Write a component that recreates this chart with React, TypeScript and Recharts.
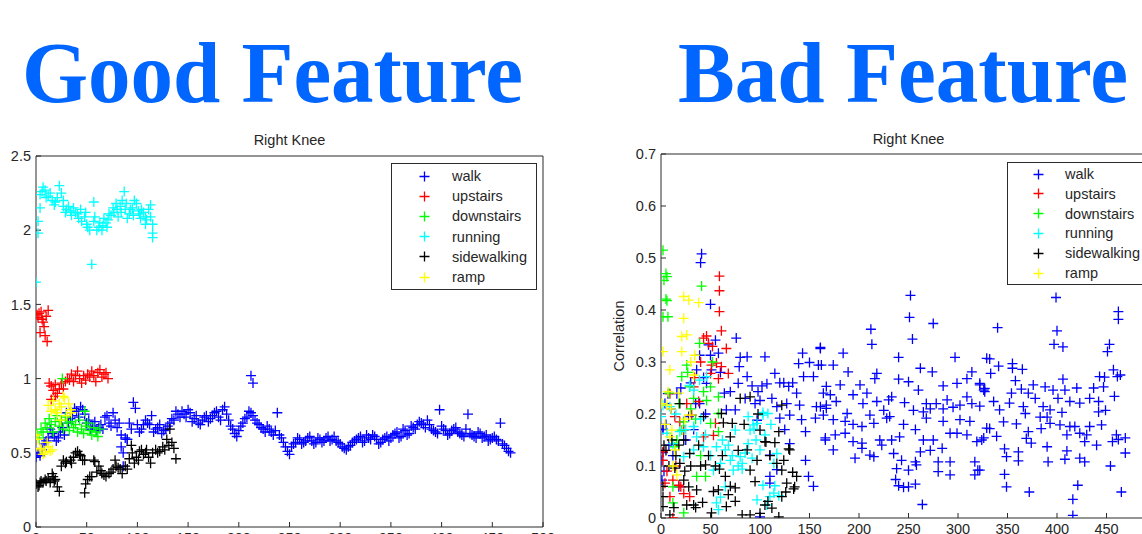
import { ScatterChart, Scatter, XAxis, YAxis, Legend } from 'recharts'

const seriesNames = ['walk', 'upstairs', 'downstairs', 'running', 'sidewalking', 'ramp']
const seriesColors = ['#0000ff', '#ff0000', '#00ff00', '#00ffff', '#000000', '#ffff00']

const xTicks = [0, 50, 100, 150, 200, 250, 300, 350, 400, 450, 500]
const goodYTicks = [0, 0.5, 1, 1.5, 2, 2.5]
const badYTicks = [0, 0.1, 0.2, 0.3, 0.4, 0.5, 0.6, 0.7]

// ---- Good feature (left) ----
// walk is sampled every 4 frames, two interleaved passes
const goodWalkStep = 4
const goodWalkY = [
  0.47, 0.48, 0.56, 0.6, 0.63, 0.58, 0.64, 0.62, 0.7, 0.75,
  0.78, 0.81, 0.76, 0.72, 0.68, 0.65, 0.69, 0.74, 0.7, 0.77,
  0.67, 0.62, 0.6, 0.7, 0.84, 0.69, 0.66, 0.72, 0.69, 0.64,
  0.67, 0.63, 0.66, 0.7, 0.72, 0.76, 0.78, 0.74, 0.77, 0.73,
  0.7, 0.72, 0.75, 0.73, 0.77, 0.74, 0.79, 0.76, 0.68, 0.63,
  0.65, 0.7, 0.74, 0.77, 0.72, 0.69, 0.66, 0.68, 0.64, 0.65,
  0.62, 0.57, 0.51, 0.54, 0.57, 0.59, 0.57, 0.6, 0.58, 0.57,
  0.59, 0.58, 0.61, 0.59, 0.58, 0.56, 0.53, 0.54, 0.57, 0.59,
  0.61, 0.58, 0.6, 0.62, 0.59, 0.57, 0.6, 0.58, 0.62, 0.64,
  0.61, 0.65, 0.63, 0.67, 0.69, 0.7, 0.67, 0.69, 0.65, 0.63,
  0.68, 0.65, 0.63, 0.66, 0.64, 0.62, 0.66, 0.63, 0.61, 0.64,
  0.6, 0.62, 0.59, 0.61, 0.58, 0.56, 0.53, 0.5,
]
const goodWalkY2 = [
  0.5, 0.52, 0.58, 0.66, 0.61, 0.6, 0.67, 0.77, 0.73, 0.8,
  0.74, 0.79, 0.7, 0.66, 0.71, 0.67, 0.66, 0.75, 0.68, 0.72,
  0.7, 0.5, 0.59, 0.66, 0.8, 0.64, 0.69, 0.7, 0.75, 0.66,
  0.69, 0.65, 0.68, 0.73, 0.78, 0.74, 0.76, 0.79, 0.71, 0.75,
  0.69, 0.74, 0.71, 0.75, 0.78, 0.72, 0.81, 0.72, 0.66, 0.61,
  0.68, 0.73, 0.78, 0.75, 0.7, 0.67, 0.64, 0.66, 0.62, 0.77,
  0.6, 0.54, 0.49, 0.56, 0.6, 0.56, 0.58, 0.61, 0.56, 0.6,
  0.57, 0.6, 0.58, 0.61, 0.57, 0.54, 0.52, 0.55, 0.58, 0.6,
  0.57, 0.62, 0.59, 0.61, 0.56, 0.59, 0.61, 0.6, 0.63, 0.6,
  0.66, 0.62, 0.68, 0.66, 0.71, 0.69, 0.72, 0.66, 0.64, 0.79,
  0.66, 0.62, 0.65, 0.67, 0.63, 0.61, 0.76, 0.62, 0.6, 0.63,
  0.61, 0.58, 0.6, 0.59, 0.7, 0.55, 0.51,
]
const goodWalkExtraX = [212, 214, 86, 90, 84]
const goodWalkExtraY = [1.02, 0.97, 0.41, 0.59, 0.54]

const goodUpX = [1, 2, 3, 4, 5, 6, 8, 9, 10, 11, 12, 7,
  13, 15, 17, 19, 21, 23, 25, 27, 29, 31, 33, 35, 37, 39, 41, 43, 45, 47, 49, 51, 53, 55, 57, 59, 61, 63, 65, 67, 69, 71, 15, 19]
const goodUpY = [1.43, 1.41, 1.44, 1.31, 1.45, 1.4, 1.35, 1.29, 1.42, 1.25, 1.46, 1.38,
  0.97, 0.95, 0.92, 0.96, 0.9, 0.93, 0.97, 0.93, 0.98, 1.0, 0.99, 1.03, 0.98, 1.02, 1.05, 1.0, 0.97, 1.02, 0.99, 1.03, 1.01, 1.05, 1.02, 0.98, 1.04, 1.06, 1.01, 1.03, 1.04, 1.0, 0.86, 0.88]

const goodDownX = [1, 3, 5, 7, 9, 11, 13, 15, 17, 19, 21, 23, 25, 27, 29, 31, 33, 35, 37, 39, 41, 43, 45, 47, 49, 51, 53, 55, 57, 59, 61, 63, 26, 48]
const goodDownY = [0.62, 0.6, 0.66, 0.64, 0.7, 0.67, 0.73, 0.69, 0.64, 0.71, 0.75, 0.68, 0.72, 0.66, 0.74, 0.7, 0.65, 0.71, 0.67, 0.69, 0.64, 0.72, 0.66, 0.63, 0.68, 0.7, 0.65, 0.62, 0.67, 0.64, 0.61, 0.66, 1.0, 0.78]

const goodRunX = [0, 2, 2, 4, 7, 9, 12, 16, 19, 23, 25, 27, 30, 34, 37, 41, 44, 48, 51, 53, 55, 57, 58, 62, 65, 69, 72, 76, 79, 83, 87, 88, 92, 95, 97, 101, 104, 108, 109, 113, 115, 115, 115,
  4, 6, 10, 14, 18, 21, 27, 29, 32, 35, 39, 42, 45, 49, 50, 57, 60, 63, 66, 67, 70, 71, 74, 77, 80, 81, 84, 85, 89, 90, 93, 96, 99, 102, 103, 106, 108, 111, 113]
const goodRunY = [1.65, 1.98, 2.06, 2.15, 2.29, 2.27, 2.23, 2.2, 2.19, 2.3, 2.25, 2.16, 2.14, 2.13, 2.15, 2.11, 2.14, 2.09, 2.02, 2.0, 1.77, 2.19, 2.09, 2.02, 2.0, 2.05, 2.11, 2.15, 2.18, 2.16, 2.26, 2.14, 2.11, 2.15, 2.2, 2.13, 2.14, 2.09, 2.07, 2.17, 2.04, 1.98, 1.95,
  2.24, 2.26, 2.22, 2.25, 2.17, 2.22, 2.2, 2.12, 2.16, 2.1, 2.12, 2.08, 2.06, 2.12, 2.04, 2.06, 2.0, 2.05, 2.03, 2.08, 2.02, 2.07, 2.1, 2.12, 2.14, 2.09, 2.12, 2.2, 2.18, 2.08, 2.14, 2.1, 2.18, 2.11, 2.08, 2.12, 2.04, 2.14, 2.09]

const goodSideX = [0, 2, 4, 5, 7, 9, 12, 14, 16, 18, 19, 21, 23, 25, 27, 30, 34, 35, 39, 41, 44, 46, 48, 48, 49, 51, 53, 55, 57, 58, 62, 64, 65, 69, 72, 76, 78, 79, 83, 85, 88, 90, 94, 95, 97, 101, 102, 104, 108, 109, 113, 115, 118, 122, 125, 127, 129, 131, 132, 134, 136, 138,
  3, 10, 17, 29, 37, 43, 60, 67, 74, 81, 92, 99, 106, 111, 120]
const goodSideY = [0.29, 0.27, 0.3, 0.31, 0.3, 0.32, 0.33, 0.3, 0.36, 0.31, 0.32, 0.27, 0.24, 0.41, 0.45, 0.44, 0.45, 0.43, 0.5, 0.51, 0.48, 0.45, 0.45, 0.23, 0.29, 0.32, 0.34, 0.34, 0.45, 0.44, 0.41, 0.38, 0.36, 0.34, 0.36, 0.39, 0.45, 0.41, 0.39, 0.36, 0.41, 0.39, 0.55, 0.5, 0.43, 0.45, 0.51, 0.52, 0.5, 0.52, 0.43, 0.5, 0.52, 0.51, 0.54, 0.52, 0.59, 0.55, 0.66, 0.57, 0.53, 0.46,
  0.28, 0.31, 0.34, 0.43, 0.47, 0.49, 0.37, 0.35, 0.37, 0.4, 0.46, 0.47, 0.49, 0.47, 0.5]

const goodRampX = [0, 2, 4, 5, 7, 9, 11, 12, 14, 16, 19, 21, 23, 25, 27, 28, 30, 32, 34, 35, 24, 12, 15, 17]
const goodRampY = [0.62, 0.59, 0.53, 0.52, 0.49, 0.5, 0.57, 0.54, 0.51, 0.52, 0.79, 0.77, 0.83, 0.81, 0.88, 0.87, 0.75, 0.83, 0.79, 0.77, 0.72, 0.82, 0.78, 0.85]

// ---- Bad feature (right) ----
const badWalkX = [
  41, 40, 50, 76, 55, 48, 58, 50, 80, 87, 105, 161, 143, 79, 115, 139, 150, 159, 87, 78, 92, 102, 124, 144, 154, 70, 98, 107, 129, 137, 164, 66, 75, 100, 112, 117, 127, 140, 157, 167, 120, 130, 142, 156, 166, 146, 130, 146, 149, 154, 110, 117, 110, 110, 36, 39, 46, 51, 7, 4, 2, 16, 28, 39, 1, 1, 97, 100, 2, 2, 5, 10, 20, 25, 30, 35, 45, 12, 3,
  8, 18, 33, 43, 60, 64, 85, 95, 125, 133, 120,
  252, 251, 254, 275, 212, 213, 161, 184, 174, 162, 240, 297, 329, 189, 218, 262, 274, 314, 216, 240, 250, 309, 299, 167, 181, 201, 285, 322, 260, 171, 194, 208, 233, 309, 327, 177, 204, 218, 230, 246, 268, 278, 289, 302, 314, 161, 167, 188, 211, 225, 231, 255, 265, 272, 285, 295, 164, 174, 186, 194, 203, 215, 228, 245, 257, 268, 285, 302, 312, 329, 166, 176, 186, 194, 203, 221, 233, 241, 265, 275, 292, 299, 309, 319, 326, 174, 196, 203, 211, 215, 223, 235, 262, 272, 284, 243, 257, 258, 250, 238, 280, 292, 280, 292, 317, 320, 317, 237, 240, 245, 250, 257, 264, 326,
  399, 462, 462, 340, 400, 397, 406, 453, 451, 332, 341, 355, 355, 365, 333, 457, 443, 448, 461, 464, 358, 406, 322, 327, 376, 364, 388, 396, 408, 420, 437, 447, 354, 371, 458, 336, 352, 366, 378, 401, 413, 433, 442, 322, 342, 368, 386, 393, 405, 423, 442, 449, 346, 383, 390, 393, 403, 413, 433, 445, 359, 332, 339, 371, 384, 410, 423, 430, 418, 460, 469, 456, 462, 324, 369, 374, 428, 440, 347, 349, 361, 361, 390, 410, 408, 391, 423, 428, 469, 454, 347, 349, 372, 421, 416, 416, 465, 322,
]
const badWalkY = [
  0.508, 0.491, 0.411, 0.346, 0.342, 0.333, 0.317, 0.313, 0.309, 0.31, 0.31, 0.328, 0.317, 0.291, 0.278, 0.297, 0.299, 0.294, 0.272, 0.259, 0.254, 0.254, 0.26, 0.272, 0.272, 0.243, 0.243, 0.258, 0.253, 0.24, 0.24, 0.208, 0.208, 0.226, 0.23, 0.214, 0.22, 0.217, 0.214, 0.217, 0.192, 0.198, 0.189, 0.192, 0.15, 0.166, 0.143, 0.111, 0.08, 0.061, 0.08, 0.093, 0.067, 0.121, 0.285, 0.313, 0.259, 0.285, 0.239, 0.22, 0.17, 0.239, 0.195, 0.22, 0.111, 0.073, 0.188, 0.002, 0.171, 0.126, 0.18, 0.21, 0.25, 0.15, 0.26, 0.22, 0.2, 0.12, 0.09,
  0.14, 0.06, 0.17, 0.27, 0.28, 0.24, 0.23, 0.22, 0.17, 0.26, 0.26,
  0.428, 0.386, 0.344, 0.374, 0.363, 0.334, 0.326, 0.317, 0.294, 0.294, 0.309, 0.309, 0.307, 0.281, 0.278, 0.288, 0.281, 0.281, 0.268, 0.267, 0.262, 0.268, 0.259, 0.253, 0.256, 0.256, 0.254, 0.256, 0.246, 0.237, 0.237, 0.24, 0.233, 0.233, 0.243, 0.224, 0.22, 0.224, 0.227, 0.222, 0.22, 0.22, 0.227, 0.217, 0.22, 0.214, 0.211, 0.201, 0.198, 0.207, 0.195, 0.207, 0.204, 0.21, 0.21, 0.213, 0.198, 0.189, 0.186, 0.18, 0.176, 0.182, 0.192, 0.18, 0.17, 0.192, 0.186, 0.189, 0.186, 0.173, 0.154, 0.16, 0.163, 0.147, 0.144, 0.15, 0.15, 0.156, 0.15, 0.15, 0.163, 0.163, 0.16, 0.147, 0.154, 0.131, 0.115, 0.134, 0.121, 0.118, 0.14, 0.124, 0.127, 0.13, 0.134, 0.111, 0.108, 0.102, 0.092, 0.095, 0.108, 0.108, 0.089, 0.083, 0.108, 0.092, 0.083, 0.074, 0.062, 0.059, 0.06, 0.065, 0.026, 0.246,
  0.424, 0.397, 0.382, 0.366, 0.36, 0.334, 0.329, 0.334, 0.32, 0.306, 0.292, 0.297, 0.288, 0.286, 0.278, 0.285, 0.272, 0.271, 0.272, 0.275, 0.264, 0.267, 0.259, 0.249, 0.256, 0.248, 0.252, 0.246, 0.246, 0.25, 0.25, 0.252, 0.24, 0.24, 0.234, 0.224, 0.221, 0.214, 0.23, 0.23, 0.224, 0.23, 0.224, 0.215, 0.208, 0.201, 0.214, 0.208, 0.203, 0.221, 0.204, 0.207, 0.185, 0.194, 0.194, 0.182, 0.179, 0.176, 0.176, 0.179, 0.181, 0.172, 0.157, 0.166, 0.172, 0.16, 0.163, 0.16, 0.176, 0.16, 0.154, 0.147, 0.151, 0.15, 0.153, 0.144, 0.147, 0.14, 0.133, 0.118, 0.127, 0.11, 0.137, 0.129, 0.113, 0.108, 0.115, 0.108, 0.125, 0.1, 0.084, 0.06, 0.05, 0.063, 0.036, 0.005, 0.05, 0.092,
]

const badUpX = [59, 59, 59, 61, 46, 43, 48, 66, 56, 61, 51, 50, 68, 58, 33, 9, 38, 26, 31, 14, 55, 23, 2, 2, 12, 18, 23, 29, 9, 12, 4, 43, 53, 19,
  6, 15, 20, 34, 40, 52]
const badUpY = [0.465, 0.437, 0.397, 0.36, 0.35, 0.346, 0.336, 0.326, 0.298, 0.291, 0.294, 0.278, 0.278, 0.268, 0.252, 0.239, 0.224, 0.22, 0.198, 0.195, 0.182, 0.169, 0.127, 0.111, 0.073, 0.063, 0.047, 0.041, 0.041, 0.0, 0.067, 0.156, 0.159, 0.185,
  0.09, 0.1, 0.06, 0.27, 0.3, 0.33]

const badDownX = [2, 5, 6, 3, 5, 6, 2, 7, 41, 39, 26, 21, 29, 43, 50, 58, 46, 58, 23, 21, 50, 14, 36, 12, 23, 58, 45, 30, 35, 16,
  8, 12, 18, 27, 33, 40, 52]
const badDownY = [0.515, 0.47, 0.464, 0.457, 0.421, 0.418, 0.387, 0.387, 0.446, 0.336, 0.294, 0.272, 0.252, 0.243, 0.252, 0.233, 0.226, 0.201, 0.185, 0.169, 0.182, 0.137, 0.08, 0.029, 0.01, 0.166, 0.08, 0.21, 0.19, 0.15,
  0.24, 0.06, 0.22, 0.28, 0.23, 0.12, 0.3]

const badRunX = [2, 0, 9, 29, 33, 39, 46, 6, 19, 33, 36, 33, 43, 56, 65, 70, 60, 53, 80, 90, 93, 97, 103, 108, 88, 82, 73, 100, 114, 114, 56, 58, 103, 97, 110, 117, 88, 75, 23, 12, 103, 94, 82, 115, 119,
  15, 25, 40, 45, 50, 62, 68, 72, 78, 85, 92, 96, 105, 111, 65, 60, 107]
const badRunY = [0.217, 0.195, 0.214, 0.255, 0.246, 0.265, 0.272, 0.163, 0.166, 0.176, 0.156, 0.131, 0.137, 0.137, 0.131, 0.111, 0.105, 0.092, 0.118, 0.169, 0.179, 0.182, 0.198, 0.201, 0.143, 0.105, 0.092, 0.131, 0.105, 0.048, 0.029, 0.016, 0.063, 0.035, 0.041, 0.124, 0.195, 0.169, 0.118, 0.143, 0.203, 0.171, 0.094, 0.062, 0.043,
  0.2, 0.17, 0.19, 0.16, 0.12, 0.15, 0.14, 0.12, 0.1, 0.125, 0.115, 0.15, 0.16, 0.18, 0.06, 0.04, 0.025]

const badSideX = [11, 14, 2, 2, 2, 9, 19, 23, 26, 33, 19, 43, 38, 29, 23, 45, 36, 51, 53, 58, 70, 75, 66, 63, 72, 70, 80, 90, 61, 87, 90, 97, 105, 100, 119, 122, 124, 122, 130, 117, 127, 134, 137, 122, 105, 100, 90, 119, 112, 108, 82, 75, 129, 133, 106, 59,
  5, 8, 15, 18, 24, 28, 30, 40, 42, 48, 55, 62, 65, 68, 78, 84, 95, 98, 110, 115, 126, 135, 3, 13, 35]
const badSideY = [0.15, 0.096, 0.061, 0.041, 0.022, 0.006, 0.105, 0.073, 0.025, 0.025, 0.22, 0.195, 0.14, 0.124, 0.15, 0.102, 0.054, 0.01, 0.051, 0.054, 0.061, 0.058, 0.022, 0.183, 0.182, 0.156, 0.23, 0.233, 0.201, 0.131, 0.092, 0.111, 0.147, 0.169, 0.166, 0.217, 0.111, 0.092, 0.131, 0.105, 0.067, 0.056, 0.08, 0.041, 0.025, 0.009, 0.006, 0.002, 0.019, 0.032, 0.006, 0.032, 0.133, 0.088, 0.146, 0.094,
  0.13, 0.1, 0.12, 0.14, 0.09, 0.06, 0.1, 0.1, 0.03, 0.12, 0.1, 0.12, 0.08, 0.045, 0.13, 0.18, 0.07, 0.2, 0.12, 0.145, 0.05, 0.06, 0.14, 0.02, 0.02]

const badRampX = [23, 28, 38, 23, 21, 26, 2, 21, 34, 9, 33, 7, 6, 1, 29, 9, 14, 16, 11,
  4, 10, 18, 24, 30, 12]
const badRampY = [0.426, 0.419, 0.414, 0.384, 0.349, 0.352, 0.32, 0.32, 0.313, 0.285, 0.275, 0.243, 0.217, 0.22, 0.198, 0.156, 0.131, 0.083, 0.169,
  0.18, 0.21, 0.24, 0.19, 0.3, 0.1]

type Pt = { x: number; y: number }
const pts = (xs: number[], ys: number[]): Pt[] => xs.map((x, i) => ({ x, y: ys[i] }))

const goodSeries: Pt[][] = [
  [
    ...goodWalkY.map((y, i) => ({ x: i * goodWalkStep, y })),
    ...goodWalkY2.map((y, i) => ({ x: i * goodWalkStep + 2, y })),
    ...pts(goodWalkExtraX, goodWalkExtraY),
  ],
  pts(goodUpX, goodUpY),
  pts(goodDownX, goodDownY),
  pts(goodRunX, goodRunY),
  pts(goodSideX, goodSideY),
  pts(goodRampX, goodRampY),
]

const badSeries: Pt[][] = [
  pts(badWalkX, badWalkY),
  pts(badUpX, badUpY),
  pts(badDownX, badDownY),
  pts(badRunX, badRunY),
  pts(badSideX, badSideY),
  pts(badRampX, badRampY),
]

const axisColor = '#2b2b2b'
const textColor = '#262626'
const sans = '"Liberation Sans", Arial, sans-serif'

function plusShape(color: string) {
  return (p: any) => {
    const { cx, cy } = p
    if (cx == null || cy == null) return <g />
    return (
      <path
        d={`M${cx - 5},${cy}H${cx + 5}M${cx},${cy - 5}V${cy + 5}`}
        stroke={color}
        strokeWidth={1.3}
        fill="none"
      />
    )
  }
}

function LegendBox({ markerX, textX, rowTop, rowGap }: { markerX: number; textX: number; rowTop: number; rowGap: number }) {
  return (
    <div
      style={{
        position: 'relative',
        width: '100%',
        height: '100%',
        boxSizing: 'border-box',
        border: `1px solid ${axisColor}`,
        background: '#fff',
        fontFamily: sans,
        fontSize: 14.5,
        color: textColor,
      }}
    >
      {seriesNames.map((name, i) => (
        <div key={name}>
          <svg
            width={11}
            height={11}
            style={{ position: 'absolute', left: markerX - 6.5, top: rowTop + i * rowGap - 6.5 }}
          >
            <path d="M0.5,5.5H10.5M5.5,0.5V10.5" stroke={seriesColors[i]} strokeWidth={1.3} fill="none" />
          </svg>
          <span
            style={{
              position: 'absolute',
              left: textX - 1,
              top: rowTop + i * rowGap - 9,
              lineHeight: '17px',
              whiteSpace: 'nowrap',
            }}
          >
            {name}
          </span>
        </div>
      ))}
    </div>
  )
}

function CorrelationLabel(props: any) {
  const vb = props.viewBox || { x: 0, y: 0, width: 0, height: 0 }
  const x = vb.x + 19
  const y = vb.y + vb.height / 2
  return (
    <text
      x={x}
      y={y}
      transform={`rotate(-90, ${x}, ${y})`}
      textAnchor="middle"
      dominantBaseline="central"
      fontFamily={sans}
      fontSize={14.5}
      fill={textColor}
    >
      Correlation
    </text>
  )
}

function Panel({
  series,
  yTicks,
  yMax,
  width,
  height,
  margin,
  yAxisWidth,
  titleOffset,
  legendStyle,
  legendRow,
  yLabel,
}: {
  series: Pt[][]
  yTicks: number[]
  yMax: number
  width: number
  height: number
  margin: { top: number; right: number; bottom: number; left: number }
  yAxisWidth: number
  titleOffset: number
  legendStyle: React.CSSProperties
  legendRow: { markerX: number; textX: number; rowTop: number; rowGap: number }
  yLabel?: boolean
}) {
  const tickFont = { fontSize: 14.5, fill: textColor, fontFamily: sans }
  return (
    <ScatterChart width={width} height={height} margin={margin}>
      <XAxis
        dataKey="x"
        type="number"
        domain={[0, 500]}
        ticks={xTicks}
        interval={0}
        allowDataOverflow
        height={30}
        stroke={axisColor}
        tickSize={-5}
        tickMargin={11}
        tick={tickFont}
      />
      <XAxis
        xAxisId="top"
        dataKey="x"
        orientation="top"
        type="number"
        domain={[0, 500]}
        ticks={xTicks}
        interval={0}
        allowDataOverflow
        height={1}
        stroke={axisColor}
        tickSize={-5}
        tick={false}
        label={{ value: 'Right Knee', position: 'top', offset: titleOffset, fill: textColor, fontSize: 14.5, fontFamily: sans }}
      />
      <YAxis
        dataKey="y"
        type="number"
        domain={[0, yMax]}
        ticks={yTicks}
        interval={0}
        allowDataOverflow
        width={yAxisWidth}
        stroke={axisColor}
        tickSize={-5}
        tickMargin={10}
        tick={tickFont}
        label={yLabel ? <CorrelationLabel /> : undefined}
      />
      <YAxis
        yAxisId="right"
        dataKey="y"
        orientation="right"
        type="number"
        domain={[0, yMax]}
        ticks={yTicks}
        interval={0}
        allowDataOverflow
        width={1}
        stroke={axisColor}
        tickSize={-5}
        tick={false}
      />
      {/* invisible copy of the first series that anchors the frame axes (top / right) */}
      <Scatter
        xAxisId="top"
        yAxisId="right"
        data={series[0]}
        shape={() => <g />}
        legendType="none"
        isAnimationActive={false}
      />
      {series.map((data, i) => (
        <Scatter
          key={seriesNames[i]}
          name={seriesNames[i]}
          data={data}
          fill={seriesColors[i]}
          shape={plusShape(seriesColors[i])}
          isAnimationActive={false}
        />
      ))}
      <Legend
        layout="horizontal"
        verticalAlign="middle"
        align="center"
        wrapperStyle={legendStyle}
        content={() => <LegendBox {...legendRow} />}
      />
    </ScatterChart>
  )
}

export default function App() {
  return (
    <div
      style={{
        position: 'absolute',
        left: 0,
        top: 0,
        width: 1142,
        height: 534,
        overflow: 'hidden',
        background: '#fff',
      }}
    >
      <svg width={1142} height={120} style={{ position: 'absolute', left: 0, top: 0 }}>
        <text
          x={22}
          y={102}
          textLength={501}
          lengthAdjust="spacingAndGlyphs"
          fontFamily='"Liberation Serif", "Times New Roman", serif'
          fontWeight="bold"
          fontSize={87}
          fill="#0066ff"
        >
          Good Feature
        </text>
        <text
          x={678}
          y={102}
          textLength={450}
          lengthAdjust="spacingAndGlyphs"
          fontFamily='"Liberation Serif", "Times New Roman", serif'
          fontWeight="bold"
          fontSize={87}
          fill="#0066ff"
        >
          Bad Feature
        </text>
      </svg>

      <div style={{ position: 'absolute', left: 0, top: 120 }}>
        <Panel
          series={goodSeries}
          yTicks={goodYTicks}
          yMax={2.5}
          width={560}
          height={440}
          margin={{ top: 35, right: 16, bottom: 3, left: 0 }}
          yAxisWidth={36}
          titleOffset={10}
          legendStyle={{ left: 391, top: 43, width: 146, height: 127 }}
          legendRow={{ markerX: 33, textX: 61, rowTop: 13, rowGap: 20.2 }}
        />
      </div>

      <div style={{ position: 'absolute', left: 600, top: 120 }}>
        <Panel
          series={badSeries}
          yTicks={badYTicks}
          yMax={0.7}
          width={600}
          height={440}
          margin={{ top: 33, right: 43, bottom: 12, left: 0 }}
          yAxisWidth={61}
          titleOffset={9}
          legendStyle={{ left: 407, top: 42, width: 160, height: 123 }}
          legendRow={{ markerX: 31, textX: 58, rowTop: 12, rowGap: 19.8 }}
          yLabel
        />
      </div>
    </div>
  )
}
